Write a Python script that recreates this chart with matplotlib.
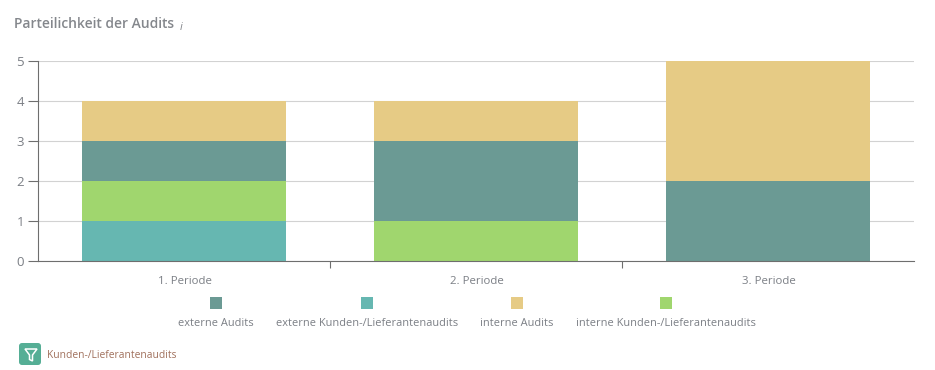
import matplotlib
matplotlib.use('Agg')
import matplotlib.pyplot as plt
from matplotlib.patches import FancyBboxPatch, Rectangle, Polygon

plt.rcParams['font.family'] = ['Open Sans', 'DejaVu Sans']

W, H = 935, 370

periods = ['1. Periode', '2. Periode', '3. Periode']
# bottom to top, as stacked in the chart
ext_kunden = [1, 0, 0]
int_kunden = [1, 1, 0]
ext_audits = [1, 2, 2]
int_audits = [1, 1, 3]

c_ext_audits = '#6b9a94'
c_ext_kunden = '#66b7b1'
c_int_audits = '#e6cb85'
c_int_kunden = '#a0d66e'
grey = '#6e6e6e'
txt = '#7b7f85'

fig = plt.figure(figsize=(W / 100, H / 100), dpi=100)
ax = fig.add_axes([38 / W, 1 - 260.5 / H, 876 / W, 199.5 / H])

stacks = [(ext_kunden, c_ext_kunden), (int_kunden, c_int_kunden),
          (ext_audits, c_ext_audits), (int_audits, c_int_audits)]
x = range(len(periods))
bottom = [0, 0, 0]
for vals, col in stacks:
    ax.bar(x, vals, bottom=bottom, width=0.7, color=col, linewidth=0, zorder=3)
    bottom = [b + v for b, v in zip(bottom, vals)]

ax.set_xlim(-0.5, 2.5)
ax.set_ylim(0, 5)
ax.set_yticks(range(6))
ax.yaxis.grid(True, color='#d2d2d2', linewidth=0.8, zorder=0)
ax.set_axisbelow(True)
ax.set_xticks([0.5, 1.5])
ax.set_xticklabels([])
ax.tick_params(axis='x', length=5, width=0.8, color=grey)
ax.tick_params(axis='y', length=7, width=0.8, color=grey, labelcolor=txt, labelsize=9.5, pad=3)
for s in ['top', 'right']:
    ax.spines[s].set_visible(False)
for s in ['left', 'bottom']:
    ax.spines[s].set_color(grey)
    ax.spines[s].set_linewidth(0.8)
    ax.spines[s].set_zorder(5)

for i, p in enumerate(periods):
    ax.annotate(p, (i, 0), xytext=(1, -21), xycoords=('data', 'axes fraction'),
                textcoords='offset pixels', ha='center', va='center',
                color=txt, fontsize=8.2)


def px(x_px, y_px):
    return x_px / W, 1 - y_px / H


fig.text(*px(14, 24), 'Parteilichkeit der Audits', fontsize=10, fontweight='semibold',
         color='#84878c', ha='left', va='center')
fig.text(*px(180, 27), 'i', fontsize=8, style='italic', color='#84878c', ha='left', va='center')

legend = [('externe Audits', c_ext_audits, 216),
          ('externe Kunden-/Lieferantenaudits', c_ext_kunden, 367),
          ('interne Audits', c_int_audits, 517),
          ('interne Kunden-/Lieferantenaudits', c_int_kunden, 666)]
for name, col, cx in legend:
    x0, y0 = px(cx - 6, 309)
    fig.add_artist(Rectangle((x0, y0), 12 / W, 12 / H, transform=fig.transFigure,
                             facecolor=col, linewidth=0))
    fig.text(*px(cx, 323), name, fontsize=7.9, color=txt, ha='center', va='center')

# filter button
x0, y0 = px(21, 363)
box = FancyBboxPatch((x0 * W, y0 * H), 18, 18, transform=None,
                     boxstyle='round,pad=2,rounding_size=3', facecolor='#55ae95', linewidth=0)
fig.add_artist(box)
icon = [(25, 349), (37, 349), (32.5, 355), (32.5, 361), (29.5, 359.5), (29.5, 355)]
fig.add_artist(Polygon([px(a, b) for a, b in icon], closed=True, transform=fig.transFigure,
                       facecolor='none', edgecolor='white', linewidth=1.1))
fig.text(*px(47.5, 355.5), 'Kunden-/Lieferantenaudits', fontsize=7.4, color='#a0705c',
         ha='left', va='center')

fig.savefig('out.png', dpi=100)
